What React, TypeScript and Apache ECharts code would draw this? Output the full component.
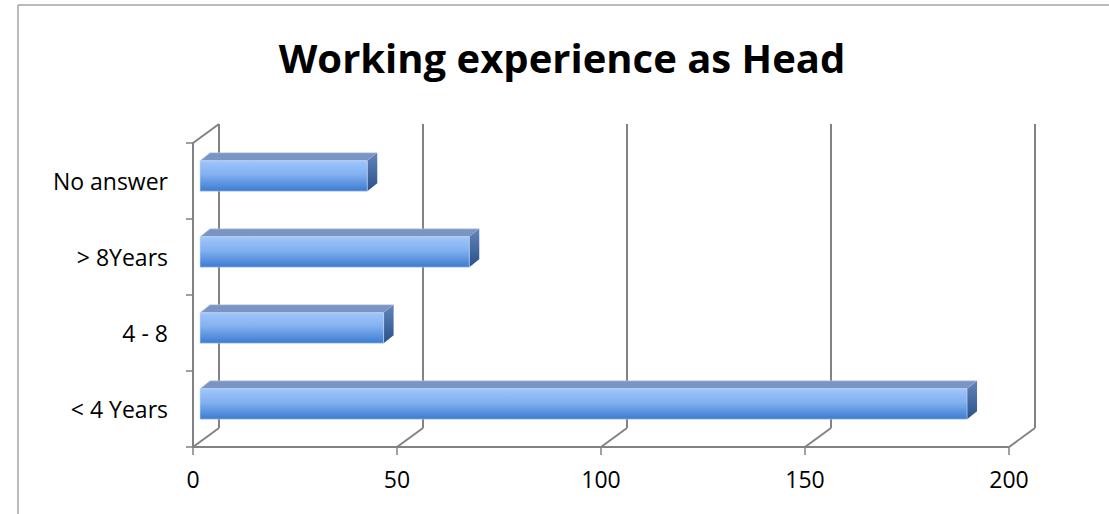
import React, { useEffect, useRef } from "react";
import * as echarts from "echarts";

// ---- data ----
const categories = ["< 4 Years", "4 - 8", "> 8Years", "No answer"];
const values = [188, 45, 66, 41];
const xTicks = [0, 50, 100, 150, 200];
const titleText = "Working experience as Head";

// ---- layout / style constants ----
const DEPTH_X = 26;
const DEPTH_Y = 19;
const BAR_DX = 10;
const BAR_DY = 8;
const BAR_SHIFT_X = 7;
const BAR_SHIFT_Y = -5;
const GRAY = "#828282";
const FONT = "'Open Sans', 'Noto Sans', sans-serif";

export default function App() {
  const ref = useRef<HTMLDivElement>(null);

  useEffect(() => {
    const chart = echarts.init(ref.current as HTMLDivElement, null, { renderer: "svg" });

    const option: any = {
      animation: false,
      backgroundColor: "#ffffff",
      textStyle: { fontFamily: FONT },
      grid: { left: 193, right: 100, top: 143, bottom: 67, containLabel: false },
      xAxis: {
        type: "value",
        min: 0,
        max: 200,
        interval: 50,
        axisLine: { show: true, lineStyle: { color: GRAY, width: 2 } },
        axisTick: { show: true, length: 8, lineStyle: { color: GRAY, width: 1.5 } },
        splitLine: { show: false },
        axisLabel: { color: "#000", fontSize: 23, fontFamily: FONT, margin: 20 },
      },
      yAxis: {
        type: "category",
        data: categories,
        axisLine: { show: true, lineStyle: { color: GRAY, width: 2 } },
        axisTick: { show: true, length: 7, lineStyle: { color: GRAY, width: 1.5 } },
        splitLine: { show: false },
        axisLabel: { color: "#000", fontSize: 23, fontFamily: FONT, margin: 25 },
      },
      graphic: [
        {
          type: "line",
          shape: { x1: 18, y1: 5, x2: 1109, y2: 5 },
          style: { stroke: "#a3a3a3", lineWidth: 1.5 },
          silent: true,
        },
        {
          type: "line",
          shape: { x1: 18, y1: 5, x2: 18, y2: 514 },
          style: { stroke: "#a3a3a3", lineWidth: 1.5 },
          silent: true,
        },
        {
          type: "text",
          x: 562,
          y: 57,
          style: {
            text: titleText,
            fontFamily: FONT,
            fontWeight: "bold",
            fontSize: 40,
            fill: "#000",
            align: "center",
            verticalAlign: "middle",
          },
          silent: true,
        },
      ],
      series: [
        {
          type: "custom",
          name: "walls",
          silent: true,
          clip: false,
          z: 1,
          data: xTicks.map((v) => [v, 0]),
          renderItem: (params: any, api: any) => {
            const cs = params.coordSys;
            const v = api.value(0);
            const px = api.coord([v, 0])[0];
            const top = cs.y;
            const bottom = cs.y + cs.height;
            const ls = { stroke: GRAY, lineWidth: 2, fill: null };
            const children: any[] = [
              { type: "line", shape: { x1: px + DEPTH_X, y1: top - DEPTH_Y, x2: px + DEPTH_X, y2: bottom - DEPTH_Y }, style: ls },
              { type: "line", shape: { x1: px, y1: bottom, x2: px + DEPTH_X, y2: bottom - DEPTH_Y }, style: ls },
            ];
            if (v === xTicks[0]) {
              children.push({ type: "line", shape: { x1: px, y1: top, x2: px + DEPTH_X, y2: top - DEPTH_Y }, style: ls });
            }
            return { type: "group", children };
          },
        },
        {
          type: "custom",
          name: "bars",
          clip: false,
          z: 5,
          data: values.map((v, i) => [v, i]),
          renderItem: (params: any, api: any) => {
            const v = api.value(0);
            const idx = api.value(1);
            const p0 = api.coord([0, idx]);
            const p1 = api.coord([v, idx]);
            const band = api.size([0, 1])[1];
            const h = band * 0.4;
            const x0 = p0[0] + BAR_SHIFT_X;
            const x1 = p1[0] + BAR_SHIFT_X;
            const yc = p0[1] + BAR_SHIFT_Y;
            const y0 = yc - h / 2;
            const y1 = yc + h / 2;
            return {
              type: "group",
              children: [
                {
                  type: "polygon",
                  shape: { points: [[x0, y0], [x0 + BAR_DX, y0 - BAR_DY], [x1 + BAR_DX, y0 - BAR_DY], [x1, y0]] },
                  style: { fill: "#7a95c4", stroke: "#c3d2ea", lineWidth: 0.6 },
                },
                {
                  type: "polygon",
                  shape: { points: [[x1, y0], [x1 + BAR_DX, y0 - BAR_DY], [x1 + BAR_DX, y1 - BAR_DY], [x1, y1]] },
                  style: {
                    fill: new echarts.graphic.LinearGradient(0, 0, 0, 1, [
                      { offset: 0, color: "#6384b8" },
                      { offset: 1, color: "#2a518b" },
                    ]),
                  },
                },
                {
                  type: "rect",
                  shape: { x: x0, y: y0, width: x1 - x0, height: h },
                  style: {
                    fill: new echarts.graphic.LinearGradient(0, 0, 0, 1, [
                      { offset: 0, color: "#9fc6fc" },
                      { offset: 0.45, color: "#82b0f0" },
                      { offset: 1, color: "#3c7bd0" },
                    ]),
                    stroke: "#c8daf4",
                    lineWidth: 0.6,
                  },
                },
              ],
            };
          },
        },
      ],
    };

    chart.setOption(option);
    return () => {
      chart.dispose();
    };
  }, []);

  return (
    <div
      ref={ref}
      style={{ position: "fixed", left: 0, top: 0, width: 1109, height: 514, background: "#fff" }}
    />
  );
}
